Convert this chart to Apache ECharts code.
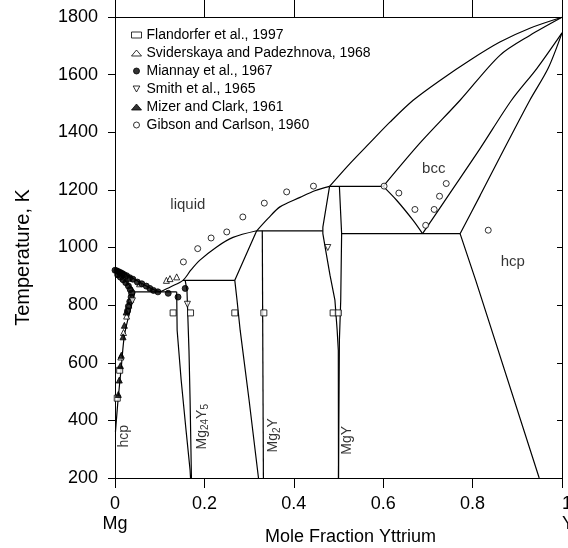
<!DOCTYPE html>
<html><head><meta charset="utf-8">
<script src="https://cdn.jsdelivr.net/npm/echarts@6/dist/echarts.min.js"></script>
<style>html,body{margin:0;padding:0;background:#fff}#c{width:568px;height:548px}</style>
</head><body><div id="c"></div>
<script>
// ---------- axis ticks ----------
const xTicks = [0, 0.2, 0.4, 0.6, 0.8, 1.0];
const yTicks = [200, 400, 600, 800, 1000, 1200, 1400, 1600, 1800];

// ---------- phase boundaries [mole fraction Y, T(K)] ----------
const liquidusMg   = [[0,924],[0.022,910],[0.045,889],[0.067,869],[0.089,852],[0.101,846]];
const liquidusMid  = [[0.101,846],[0.125,864],[0.152,886],[0.17,922],[0.19,956],[0.2275,1002],[0.264,1035],[0.317,1058]];
const liquidusHigh = [[0.317,1058],[0.343,1102],[0.369,1141],[0.414,1174],[0.447,1197],[0.48,1212]];
const liquidusBcc  = [[0.48,1212],[0.526,1292],[0.570,1363],[0.615,1435],[0.667,1511],[0.727,1580],[0.794,1650],[0.861,1713],[0.928,1761],[1.0,1799]];
const solidusBcc   = [[0.600,1212],[0.682,1362],[0.772,1511],[0.861,1667],[0.928,1736],[1.0,1799]];
const bccSolvus    = [[0.600,1212],[0.630,1164],[0.667,1094],[0.688,1048]];
const bccTransBcc  = [[0.688,1048],[0.749,1188],[0.817,1344],[0.887,1511],[0.944,1622],[1.0,1745]];
const bccTransHcp  = [[0.772,1048],[0.817,1181],[0.861,1313],[0.928,1511],[0.969,1622],[1.0,1745]];
const hcpYSolvus   = [[0.772,1048],[0.807,886],[0.949,200]];
const hcpMgSolidus = [[0,924],[0.015,899],[0.03,873],[0.045,846]];
const hcpMgSolvus  = [[0.045,846],[0.040,817],[0.0217,701],[0.0141,585],[0.0067,469],[0.0022,383],[0.001,360]];
const eutectic     = [[0.045,846],[0.138,846]];
const periMg24Y5   = [[0.152,886],[0.268,886]];
const periMg2Y     = [[0.317,1058],[0.465,1058]];
const eutectoid    = [[0.506,1048],[0.772,1048]];
const periMgY      = [[0.48,1212],[0.600,1212]];
const mg24y5Left   = [[0.138,846],[0.139,713],[0.148,540],[0.159,365],[0.168,227],[0.169,200]];
const mg24y5Right  = [[0.157,886],[0.161,851],[0.1655,643],[0.168,470],[0.171,200]];
const mg2yLeft     = [[0.317,1058],[0.268,886],[0.273,817],[0.280,713],[0.300,470],[0.321,200]];
const mg2yRight    = [[0.3295,1058],[0.332,200]];
const mgyLeft      = [[0.48,1212],[0.465,1071],[0.465,1048],[0.470,1002],[0.481,904],[0.492,817],[0.497,713],[0.4996,643],[0.5,200]];
const mgyRight     = [[0.502,1212],[0.507,1048],[0.505,817],[0.502,678],[0.5,200]];

// ---------- experimental points ----------
const flandorfer  = [[0.13,773],[0.169,773],[0.268,773],[0.333,773],[0.488,773],[0.4996,773],[0.0105,574],[0.005,477]];
const sviderskaya = [[0.115,886],[0.123,892],[0.138,898],[0.01,908],[0.03,893],[0.055,874],[0.035,820],[0.031,800],[0.026,762],[0.019,705],[0.013,620]];
const miannay     = [[0,921],[0.004,919],[0.008,916],[0.012,913],[0.016,910],[0.02,906],[0.026,902],[0.033,895],[0.04,890],[0.05,880],[0.06,874],[0.07,866],[0.078,858],[0.086,851],[0.096,846],[0.119,841],[0.141,828],[0.157,858],[0.006,905],[0.012,897],[0.018,888],[0.024,878],[0.03,866],[0.034,854],[0.037,842],[0.036,828],[0.033,812],[0.03,796],[0.028,780]];
const smith       = [[0.476,1000],[0.162,803],[0.039,815]];
const mizer       = [[0.025,776],[0.021,730],[0.018,690],[0.0141,626],[0.012,590],[0.0096,540],[0.0074,490]];
const gibson      = [[0.153,950],[0.185,996],[0.215,1033],[0.25,1054],[0.286,1106],[0.334,1154],[0.384,1193],[0.444,1213],[0.602,1213],[0.635,1189],[0.671,1132],[0.695,1077],[0.714,1132],[0.726,1178],[0.741,1222],[0.835,1060]];

const legendNames = ['Flandorfer et al., 1997','Sviderskaya and Padezhnova, 1968','Miannay et al., 1967','Smith et al., 1965','Mizer and Clark, 1961','Gibson and Carlson, 1960'];

// ---------- region labels ----------
const phaseLabels = [['liquid',0.163,1147],['bcc',0.713,1274],['hcp',0.890,950]];
const vertLabels  = [['hcp',0.0214,345],['Mg24Y5',0.194,378],['Mg2Y',0.354,348],['MgY',0.52,331]];

const FONT = "'Liberation Sans', Arial, sans-serif";

function lineS(data, smooth) {
  return {type:'line', data:data, symbol:'none', silent:true, smooth: smooth ? 0.3 : false,
    lineStyle:{color:'#000', width:1.2}, z:2, animation:false};
}
const openStyle = {color:'#fff', borderColor:'#000', borderWidth:1};
const fillStyle = {color:'#000', borderColor:'#000', borderWidth:1};
function scat(name, data, symbol, size, style) {
  return {type:'scatter', name:name, data:data, symbol:symbol, symbolSize:size, itemStyle:style, z:5, animation:false, silent:true};
}
function richName(s) {
  // digits rendered as subscripts
  return s.replace(/([A-Za-z]+)|(\d+)/g, (m, a, d) => a ? '{a|' + a + '}' : '{s|' + d + '}');
}

const series = [
  lineS(liquidusMg, true), lineS(liquidusMid, true), lineS(liquidusHigh, true), lineS(liquidusBcc, true),
  lineS(solidusBcc, true), lineS(bccSolvus, true), lineS(bccTransBcc, true), lineS(bccTransHcp, true),
  lineS(hcpYSolvus, false), lineS(hcpMgSolidus, true), lineS(hcpMgSolvus, true),
  lineS(eutectic), lineS(periMg24Y5), lineS(periMg2Y), lineS(eutectoid), lineS(periMgY),
  lineS(mg24y5Left), lineS(mg24y5Right), lineS(mg2yLeft), lineS(mg2yRight), lineS(mgyLeft), lineS(mgyRight),
  scat(legendNames[0], flandorfer, 'rect', 6, openStyle),
  scat(legendNames[1], sviderskaya, 'triangle', 6, openStyle),
  scat(legendNames[2], miannay, 'circle', 6, fillStyle),
  scat(legendNames[3], smith, 'path://M0,0L10,0L5,9Z', 6, openStyle),
  scat(legendNames[4], mizer, 'triangle', 6, fillStyle),
  scat(legendNames[5], gibson, 'circle', 6, openStyle),
  {type:'scatter', data: phaseLabels.map(l => ({name:l[0], value:[l[1], l[2]]})), symbolSize:1,
   itemStyle:{color:'rgba(0,0,0,0)'}, silent:true, animation:false, z:6,
   label:{show:true, position:'inside', formatter: p => p.name, color:'#000', fontSize:15, fontFamily:FONT}},
  {type:'scatter', data: vertLabels.map(l => ({name:l[0], value:[l[1], l[2]]})), symbolSize:1,
   itemStyle:{color:'rgba(0,0,0,0)'}, silent:true, animation:false, z:6,
   label:{show:true, position:'inside', rotate:90, formatter: p => richName(p.name),
     rich:{a:{fontSize:14, color:'#000', fontFamily:FONT}, s:{fontSize:10, color:'#000', fontFamily:FONT, padding:[8,0,0,0]}}}}
];

const chart = echarts.init(document.getElementById('c'), null, {renderer:'canvas'});
chart.setOption({
  animation:false,
  backgroundColor:'#fff',
  textStyle:{fontFamily:FONT, color:'#000'},
  grid:{left:115, right:6, top:17, bottom:70, containLabel:false, outerBoundsMode:'none'},
  legend:{data:legendNames, orient:'vertical', left:131, top:28, padding:0, itemWidth:10, itemHeight:6, itemGap:4,
    selectedMode:false, textStyle:{fontSize:14, color:'#000', fontFamily:FONT}, itemStyle:{borderWidth:1}},
  xAxis:[
    {type:'value', position:'bottom', min:xTicks[0], max:xTicks[xTicks.length-1], interval:0.2,
     axisLine:{show:true, onZero:false, lineStyle:{color:'#000', width:1}},
     axisTick:{show:true, inside:false, length:10, lineStyle:{color:'#000'}},
     splitLine:{show:false},
     axisLabel:{fontSize:18, color:'#000', fontFamily:FONT, margin:16, lineHeight:20, alignMaxLabel:'left',
       formatter: v => v === 0 ? '0\nMg' : (Math.abs(v-1) < 1e-9 ? '1.0\nY' : v.toFixed(1))},
     name:'Mole Fraction Yttrium', nameLocation:'middle', nameGap:50, nameMoveOverlap:false,
     nameTextStyle:{fontSize:18, color:'#000', fontFamily:FONT, padding:[0,0,0,24]}},
    {type:'value', position:'top', min:xTicks[0], max:xTicks[xTicks.length-1], interval:0.2,
     axisLine:{show:true, onZero:false, lineStyle:{color:'#000', width:1}},
     axisTick:{show:true, inside:false, length:17, lineStyle:{color:'#000'}},
     axisLabel:{show:false}, splitLine:{show:false}}
  ],
  yAxis:[
    {type:'value', position:'left', min:yTicks[0], max:yTicks[yTicks.length-1], interval:200,
     axisLine:{show:true, onZero:false, lineStyle:{color:'#000', width:1}},
     axisTick:{show:true, inside:false, length:7, lineStyle:{color:'#000'}},
     splitLine:{show:false},
     axisLabel:{fontSize:18, color:'#000', fontFamily:FONT, margin:17, formatter: v => String(v)},
     name:'Temperature, K', nameLocation:'middle', nameGap:82, nameMoveOverlap:false,
     nameTextStyle:{fontSize:20, color:'#000', fontFamily:FONT, padding:[0,20,0,0]}},
    {type:'value', position:'right', min:yTicks[0], max:yTicks[yTicks.length-1], interval:200,
     axisLine:{show:true, onZero:false, lineStyle:{color:'#000', width:1}},
     axisTick:{show:true, inside:true, length:5, lineStyle:{color:'#000'}},
     axisLabel:{show:false}, splitLine:{show:false}}
  ],
  series: series
});
</script></body></html>
